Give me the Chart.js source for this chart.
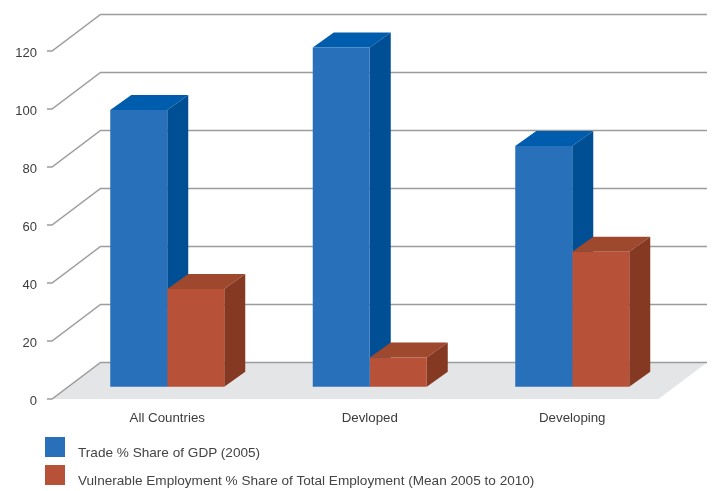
<!DOCTYPE html>
<html>
<head>
<meta charset="utf-8">
<title>Trade and vulnerable employment</title>
<script src="https://cdn.jsdelivr.net/npm/chart.js@4"></script>
<style>
  html, body { margin: 0; padding: 0; background: #fff; }
  #wrap { position: relative; width: 712px; height: 491px; overflow: hidden; }
  #legend { position: absolute; left: 45px; top: 436px; font: 13.6px "Liberation Sans", Arial, sans-serif; color: #444; }
  #legend .row { position: relative; height: 28.5px; }
  #legend .box { position: absolute; left: 0; top: 0.5px; width: 20px; height: 20px; }
  #legend .txt { position: absolute; left: 33px; top: 8.5px; white-space: nowrap; }
</style>
</head>
<body>
<div id="wrap">
  <canvas id="chart" width="712" height="491"></canvas>
  <div id="legend"></div>
</div>
<script>
// Values
const categories = ["All Countries", "Devloped", "Developing"];
const tradeShare = [95.4, 117, 83];
const vulnerableShare = [33.7, 10.1, 46.5];
const seriesNames = [
  "Trade % Share of GDP (2005)",
  "Vulnerable Employment % Share of Total Employment (Mean 2005 to 2010)",
];
const yMax = 120;
const yStep = 20;

// 3D look
const WALL_DX = 48.5, WALL_DY = -36.5; // front plane to back wall
const BAR_DX = 15, BAR_DY = -12.3; // front plane to bar front
const SIDE_DX = 21, SIDE_DY = -15; // bar depth
const shades = [
  { top: "#005DAE", side: "#004F95" },
  { top: "#9E482E", side: "#853922" },
];

function poly(ctx, color, pts) {
  ctx.fillStyle = color;
  ctx.beginPath();
  pts.forEach((p, i) => (i ? ctx.lineTo(p[0], p[1]) : ctx.moveTo(p[0], p[1])));
  ctx.closePath();
  ctx.fill();
}

const walls3d = {
  id: "walls3d",
  beforeDatasetsDraw(chart) {
    const ctx = chart.ctx;
    const area = chart.chartArea;
    const y = chart.scales.y;
    const x0 = area.left + 1;
    const y0 = y.getPixelForValue(0);

    // floor
    poly(ctx, "#E4E5E7", [
      [x0, y0],
      [x0 + WALL_DX, y0 + WALL_DY],
      [area.right + WALL_DX, y0 + WALL_DY],
      [area.right, y0],
    ]);

    // grid lines, stub + diagonal + back wall
    ctx.save();
    ctx.strokeStyle = "#9c9c9c";
    ctx.lineWidth = 1.5;
    y.ticks.forEach((t) => {
      const py = y.getPixelForValue(t.value);
      ctx.beginPath();
      ctx.moveTo(x0 - 5, py);
      ctx.lineTo(x0, py);
      ctx.lineTo(x0 + WALL_DX, py + WALL_DY);
      ctx.lineTo(area.right + WALL_DX, py + WALL_DY);
      ctx.stroke();
    });
    ctx.restore();
  },
};

// Top and side faces go down first; Chart.js then paints the fronts over them
const bars3d = {
  id: "bars3d",
  beforeDatasetsDraw(chart) {
    const ctx = chart.ctx;
    ctx.save();
    ctx.translate(BAR_DX, BAR_DY);
    chart.data.datasets.forEach((ds, i) => {
      const shade = shades[i];
      chart.getDatasetMeta(i).data.forEach((bar) => {
        const right = bar.x + bar.width / 2;
        const left = bar.x - bar.width / 2;
        poly(ctx, shade.top, [
          [left, bar.y],
          [left + SIDE_DX, bar.y + SIDE_DY],
          [right + SIDE_DX, bar.y + SIDE_DY],
          [right, bar.y],
        ]);
        poly(ctx, shade.side, [
          [right, bar.y],
          [right + SIDE_DX, bar.y + SIDE_DY],
          [right + SIDE_DX, bar.base + SIDE_DY],
          [right, bar.base],
        ]);
      });
    });
  },
  afterDatasetsDraw(chart) {
    chart.ctx.restore();
  },
};

const labelFont = { family: '"Liberation Sans", Arial, sans-serif', size: 13 };

const chart = new Chart(document.getElementById("chart").getContext("2d"), {
  type: "bar",
  data: {
    labels: categories,
    datasets: [
      {
        label: seriesNames[0],
        data: tradeShare,
        backgroundColor: "#2870BA",
        clip: false,
      },
      {
        label: seriesNames[1],
        data: vulnerableShare,
        backgroundColor: "#B75238",
        clip: false,
      },
    ],
  },
  plugins: [walls3d, bars3d],
  options: {
    responsive: false,
    animation: false,
    layout: { padding: { top: 51, right: 53.5, bottom: 52, left: 0 } },
    datasets: { bar: { barPercentage: 1, categoryPercentage: 0.563 } },
    plugins: { legend: { display: false }, tooltip: { enabled: false } },
    scales: {
      x: {
        grid: { display: false },
        border: { display: false },
        afterFit: (scale) => { scale.height = 40; },
        ticks: {
          color: "#3c3c3c",
          font: { family: labelFont.family, size: 13.3 },
          padding: 3,
          labelOffset: BAR_DX,
          maxRotation: 0,
          autoSkip: false,
        },
      },
      y: {
        min: 0,
        max: yMax,
        grid: { display: false },
        border: { display: false },
        afterFit: (scale) => { scale.width = 51; },
        ticks: {
          stepSize: yStep,
          color: "#3c3c3c",
          font: labelFont,
          padding: 6,
          labelOffset: 2,
        },
      },
    },
  },
});

// Legend lives under the chart, built from the datasets
const legendEl = document.getElementById("legend");
chart.data.datasets.forEach((ds) => {
  const row = document.createElement("div");
  row.className = "row";
  const box = document.createElement("div");
  box.className = "box";
  box.style.background = ds.backgroundColor;
  const txt = document.createElement("div");
  txt.className = "txt";
  txt.textContent = ds.label;
  row.append(box, txt);
  legendEl.append(row);
});
</script>
</body>
</html>
